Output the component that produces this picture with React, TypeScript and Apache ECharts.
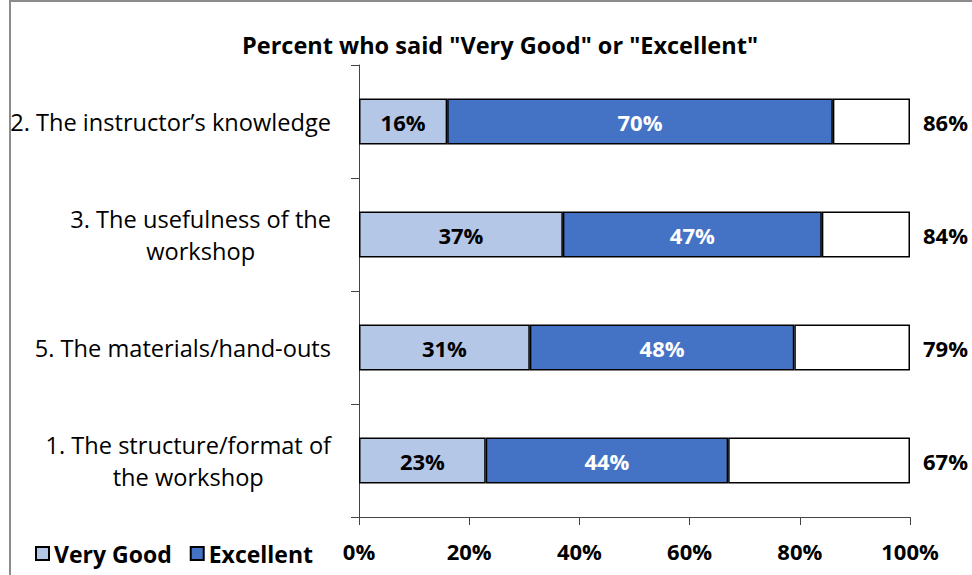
import React, { useEffect, useRef } from "react";
import * as echarts from "echarts";

const categories = [
  "2. The instructor’s knowledge",
  "3. The usefulness of the workshop",
  "5. The materials/hand-outs",
  "1. The structure/format of the workshop",
];
const veryGood = [16, 37, 31, 23];
const excellent = [70, 47, 48, 44];
const totals = [86, 84, 79, 67];
const seriesNames = ["Very Good", "Excellent"];
const titleText = 'Percent who said "Very Good" or "Excellent"';

const FONT = "Open Sans";
const CAT_SIZE = 23.6;
const NUM_SIZE = 22;

function wrapLabel(text: string, maxWidth: number): string[] {
  const ctx = document.createElement("canvas").getContext("2d");
  if (!ctx) return [text];
  ctx.font = `${CAT_SIZE}px "${FONT}"`;
  const words = text.split(" ");
  const lines: string[] = [];
  let cur = "";
  for (const w of words) {
    const test = cur ? cur + " " + w : w;
    if (cur && ctx.measureText(test).width > maxWidth) {
      lines.push(cur);
      cur = w;
    } else cur = test;
  }
  if (cur) lines.push(cur);
  return lines;
}

export default function App() {
  const ref = useRef<HTMLDivElement>(null);
  useEffect(() => {
    if (!ref.current) return;
    const chart = echarts.init(ref.current, null, { renderer: "svg" });
    const remainder = totals.map((t) => 100 - t);
    const barBorder = { borderColor: "#000", borderWidth: 1.5 };
    const ctx = document.createElement("canvas").getContext("2d");
    let maxW = 322;
    if (ctx) {
      ctx.font = `${CAT_SIZE}px "${FONT}"`;
      maxW = ctx.measureText(categories[0]).width + 4;
    }
    const numLabel = {
      fontFamily: FONT,
      fontSize: NUM_SIZE,
      fontWeight: "bold",
    };
    chart.setOption({
      animation: false,
      backgroundColor: "#fff",
      textStyle: { fontFamily: FONT },
      title: {
        text: titleText,
        left: 495,
        textAlign: "center",
        top: 28,
        textStyle: { fontFamily: FONT, fontSize: 23.5, fontWeight: "bold", color: "#000" },
      },
      graphic: [
        {
          type: "rect",
          silent: true,
          shape: { x: 10, y: 1, width: 1400, height: 1400 },
          style: { fill: "none", stroke: "#8c8c8c", lineWidth: 2 },
        },
      ],
      legend: {
        data: seriesNames,
        left: 30,
        top: 537,
        icon: "rect",
        itemWidth: 13,
        itemHeight: 13,
        itemGap: 18,
        textStyle: { fontFamily: FONT, fontSize: 23, fontWeight: "bold", color: "#000" },
      },
      grid: { left: 359, right: 62, top: 65, bottom: 58, containLabel: false },
      xAxis: {
        type: "value",
        min: 0,
        max: 100,
        interval: 20,
        axisLine: { show: true, lineStyle: { color: "#444", width: 1 } },
        axisTick: { show: true, length: 8, lineStyle: { color: "#444" } },
        splitLine: { show: false },
        axisLabel: {
          formatter: "{value}%",
          margin: 23,
          ...numLabel,
          color: "#000",
        },
      },
      yAxis: {
        type: "category",
        inverse: true,
        data: categories,
        axisLine: { show: true, lineStyle: { color: "#444", width: 1 } },
        axisTick: { show: true, length: 8, lineStyle: { color: "#444" } },
        axisLabel: {
          margin: 28,
          align: "right",
          formatter: (v: string) =>
            wrapLabel(v, maxW)
              .map((l) => `{c|${l}}`)
              .join("\n"),
          rich: {
            c: {
              align: "center",
              fontFamily: FONT,
              fontSize: CAT_SIZE,
              color: "#000",
              lineHeight: 32,
            },
          },
        },
      },
      series: [
        {
          name: seriesNames[0],
          type: "bar",
          stack: "total",
          barWidth: 46,
          data: veryGood,
          itemStyle: { color: "#B4C7E7", ...barBorder },
          label: {
            show: true,
            position: "inside",
            formatter: "{c}%",
            ...numLabel,
            color: "#000",
          },
        },
        {
          name: seriesNames[1],
          type: "bar",
          stack: "total",
          data: excellent,
          itemStyle: { color: "#4472C4", ...barBorder },
          label: {
            show: true,
            position: "inside",
            formatter: "{c}%",
            ...numLabel,
            color: "#fff",
          },
        },
        {
          name: "Total",
          type: "bar",
          stack: "total",
          data: remainder,
          itemStyle: { color: "#fff", ...barBorder },
          label: {
            show: true,
            position: "right",
            distance: 13,
            formatter: (p: any) => `${totals[p.dataIndex]}%`,
            ...numLabel,
            color: "#000",
          },
        },
      ],
    });
    return () => chart.dispose();
  }, []);
  return (
    <div
      ref={ref}
      style={{ position: "fixed", left: 0, top: 0, width: 972, height: 575 }}
    />
  );
}
